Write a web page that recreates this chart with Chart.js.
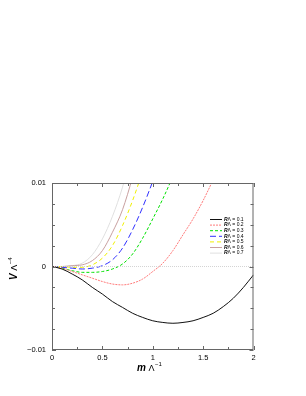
<!DOCTYPE html>
<html>
<head>
<meta charset="utf-8">
<script src="https://cdn.jsdelivr.net/npm/chart.js@4/dist/chart.umd.min.js"></script>
<style>
  html, body { margin: 0; padding: 0; background: #fff; }
  canvas { display: block; }
</style>
</head>
<body>
<canvas id="myChart" width="306" height="396"></canvas>
<script>
// values (x = m / Lambda, y = V / Lambda^4)
var xs = [0, 0.1, 0.2, 0.3, 0.4, 0.5, 0.6, 0.7, 0.8, 0.9, 1.0, 1.1, 1.2, 1.3, 1.4, 1.5, 1.6, 1.7, 1.8, 1.9, 2.0];

var labels = ['0.1', '0.2', '0.3', '0.4', '0.5', '0.6', '0.7'];

var v01 = [0, -0.0003, -0.0009, -0.0016, -0.0025, -0.0033, -0.0042, -0.0049, -0.0056, -0.0061, -0.0065, -0.0067, -0.0068, -0.0067, -0.0065, -0.0061, -0.0056, -0.0048, -0.0038, -0.0025, -0.001];
var v02 = [0, -0.0002, -0.0006, -0.001, -0.0014, -0.0018, -0.0021, -0.0022, -0.002, -0.0015, -0.0006, 0.0004, 0.0019, 0.0038, 0.0057, 0.0079, 0.0104, 0.013];
var v03 = [0, -0.0002, -0.0005, -0.0007, -0.0007, -0.0006, -0.0003, 0.0003, 0.0015, 0.0034, 0.0057, 0.0081, 0.0108, 0.0137];
var v04 = [0, -0.0001, -0.0002, -0.0003, -0.0002, 0.0001, 0.0008, 0.0022, 0.0044, 0.0071, 0.0102, 0.0135];
var v05 = [0, 0, -0.0001, -0.0001, 0.0002, 0.001, 0.0025, 0.0049, 0.0079, 0.0114, 0.015];
var v06 = [0, 0, 0.0001, 0.0002, 0.0007, 0.0019, 0.0041, 0.0068, 0.0107, 0.015];
var v07 = [0, 0, 0.0001, 0.0004, 0.0014, 0.0033, 0.006, 0.0095, 0.014];

var zeroX = [0, 2];
var zeroY = [0, 0];

var xTicks = ['0', '0.5', '1', '1.5', '2'];
var yTicks = ['\u22120.01', '0', '0.01'];

function pts(x, y) {
  var out = [];
  for (var i = 0; i < y.length; i++) out.push({ x: x[i], y: y[i] });
  return out;
}

var series = [v01, v02, v03, v04, v05, v06, v07];
var colors = ['#111111', '#ff7a7a', '#00e000', '#3030ff', '#f0f000', '#c8a0a0', '#e0e0e0'];
var dashes = [[], [2, 1], [3, 2], [6, 3], [4, 3], [], []];

var datasets = [{
  label: 'zero',
  data: pts(zeroX, zeroY),
  borderColor: '#d4d4d4',
  borderWidth: 1,
  borderDash: [1, 1],
  pointRadius: 0,
  showInLegend: false
}];
series.forEach(function(s, i) {
  datasets.push({
    label: labels[i],
    data: pts(xs, s),
    borderColor: colors[i],
    borderWidth: 1,
    borderDash: dashes[i],
    pointRadius: 0,
    cubicInterpolationMode: 'monotone',
    showInLegend: true
  });
});

var FONT = '"Liberation Sans", Arial, sans-serif';

// frame, inward ticks, legend and axis titles
var decorations = {
  id: 'decorations',
  afterDraw: function(chart) {
    var c = chart.ctx, a = chart.chartArea;
    var xs_ = chart.scales.x, ys_ = chart.scales.y;
    c.save();
    c.strokeStyle = '#666';
    c.lineWidth = 1;
    c.setLineDash([]);
    c.strokeRect(a.left + 0.5, a.top + 0.5, a.right - a.left - 1, a.bottom - a.top - 1);

    // ticks pointing in
    c.beginPath();
    xs_.ticks.forEach(function(t) {
      var px = Math.round(xs_.getPixelForValue(t.value)) + 0.5;
      var len = t.label ? 4 : 3;
      c.moveTo(px, a.bottom); c.lineTo(px, a.bottom - len);
      c.moveTo(px, a.top); c.lineTo(px, a.top + len);
    });
    ys_.ticks.forEach(function(t) {
      var py = Math.round(ys_.getPixelForValue(t.value)) + 0.5;
      var len = t.label ? 4 : 3;
      c.moveTo(a.left, py); c.lineTo(a.left + len, py);
      c.moveTo(a.right, py); c.lineTo(a.right - len, py);
    });
    c.stroke();

    // legend
    var lx = 210, ly = 219, step = 5.6;
    chart.data.datasets.forEach(function(ds) {
      if (!ds.showInLegend) return;
      c.strokeStyle = ds.borderColor;
      c.setLineDash(ds.borderDash || []);
      c.beginPath();
      c.moveTo(lx, ly + 0.5); c.lineTo(lx + 12, ly + 0.5);
      c.stroke();
      c.setLineDash([]);
      c.fillStyle = '#000';
      c.textBaseline = 'middle';
      c.font = 'italic bold 5px ' + FONT;
      c.fillText('R', lx + 14, ly + 0.5);
      var w = c.measureText('R').width;
      c.font = '5px ' + FONT;
      c.fillText('\u039B = ' + ds.label, lx + 14 + w, ly + 0.5);
      ly += step;
    });

    // x title
    c.fillStyle = '#000';
    c.textBaseline = 'alphabetic';
    c.font = 'italic bold 10px ' + FONT;
    var mw = c.measureText('m').width;
    c.font = '9px ' + FONT;
    var lw = c.measureText(' \u039B').width;
    var tx = 137, ty = 371;
    c.font = 'italic bold 10px ' + FONT;
    c.fillText('m', tx, ty);
    c.font = '9px ' + FONT;
    c.fillText(' \u039B', tx + mw, ty);
    c.font = '6px ' + FONT;
    c.fillText('\u22121', tx + mw + lw + 0.5, ty - 5);

    // y title, rotated
    c.translate(17, 280);
    c.rotate(-Math.PI / 2);
    c.font = 'italic bold 10px ' + FONT;
    var vw = c.measureText('V').width;
    c.fillText('V', 0, 0);
    c.font = '9px ' + FONT;
    c.fillText(' \u039B', vw, 0);
    var lw2 = c.measureText(' \u039B').width;
    c.font = '6px ' + FONT;
    c.fillText('\u22124', vw + lw2 + 0.5, -5);
    c.restore();
  }
};

function near(v, step) {
  return Math.abs(v / step - Math.round(v / step)) < 1e-6;
}

var ctx = document.getElementById('myChart').getContext('2d');
var chart = new Chart(ctx, {
  type: 'line',
  data: { datasets: datasets },
  options: {
    responsive: false,
    animation: false,
    layout: { padding: { left: 0, top: 183, right: 52.5, bottom: 16 } },
    plugins: { legend: { display: false }, tooltip: { enabled: false } },
    scales: {
      x: {
        type: 'linear',
        min: 0, max: 2,
        afterFit: function(s) { s.height = 30; },
        grid: { drawOnChartArea: false, drawTicks: false },
        border: { display: false },
        ticks: {
          stepSize: 0.25,
          padding: 3,
          color: '#000',
          maxRotation: 0,
          autoSkip: false,
          font: { family: FONT, size: 7.5 },
          callback: function(v) {
            return near(v, 0.5) ? xTicks[Math.round(v / 0.5)] : '';
          }
        }
      },
      y: {
        type: 'linear',
        min: -0.01, max: 0.01,
        afterFit: function(s) { s.width = 52; },
        grid: { drawOnChartArea: false, drawTicks: false },
        border: { display: false },
        ticks: {
          stepSize: 0.0025,
          padding: 6,
          color: '#000',
          autoSkip: false,
          font: { family: FONT, size: 7.5 },
          callback: function(v) {
            return near(v, 0.01) ? yTicks[Math.round(v / 0.01) + 1] : '';
          }
        }
      }
    }
  },
  plugins: [decorations]
});
</script>
</body>
</html>
